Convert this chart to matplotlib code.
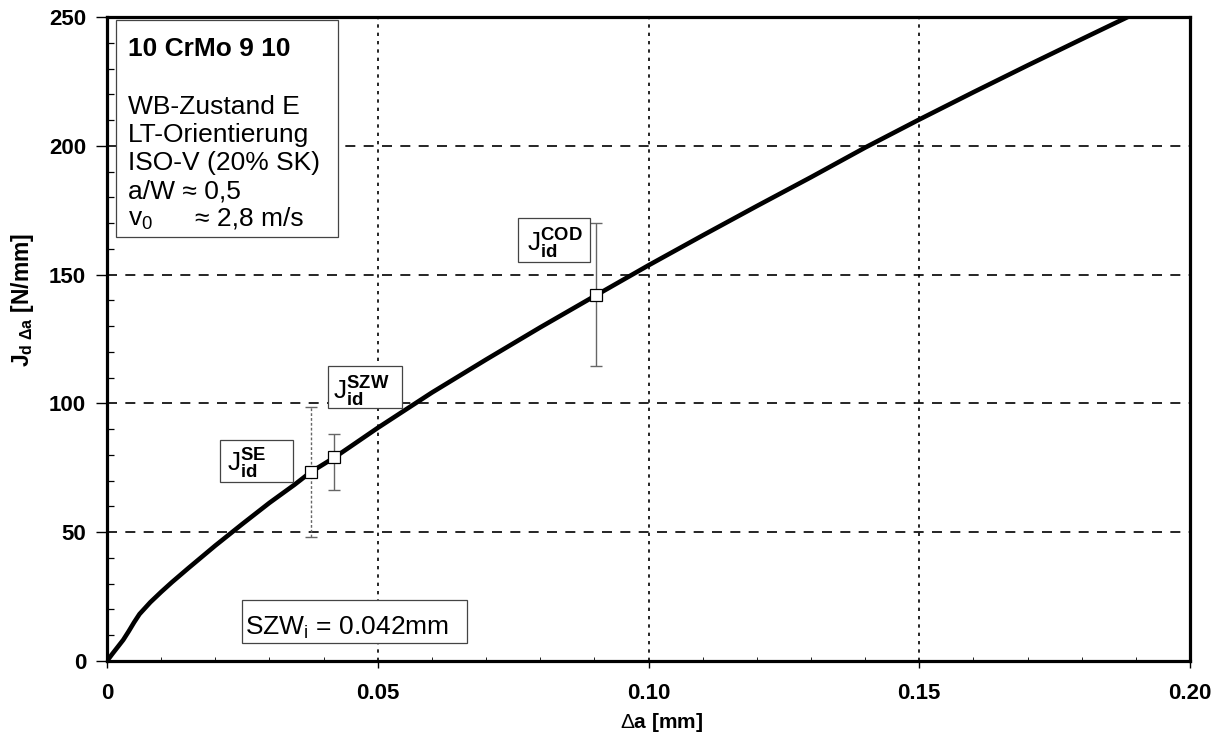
import matplotlib
matplotlib.use("Agg")
import matplotlib.pyplot as plt
from matplotlib.patches import Rectangle
from matplotlib.ticker import MultipleLocator, FixedLocator

plt.rcParams["font.family"] = ["Liberation Sans", "DejaVu Sans"]
plt.rcParams["mathtext.fontset"] = "custom"
plt.rcParams["mathtext.rm"] = "Liberation Sans"
plt.rcParams["mathtext.it"] = "Liberation Sans:italic"
plt.rcParams["mathtext.bf"] = "Liberation Sans:bold"

# J-R curve: crack extension [mm] vs. dynamic J-integral [N/mm]
crack_ext = [0.0, 0.001, 0.002, 0.003, 0.004, 0.005, 0.006, 0.007, 0.008,
             0.010, 0.012, 0.015, 0.020, 0.025, 0.030, 0.0346, 0.0376,
             0.042, 0.045, 0.050, 0.060, 0.070, 0.080, 0.090, 0.100,
             0.110, 0.120, 0.130, 0.140, 0.150, 0.160, 0.170, 0.180, 0.1885]
j_curve = [0.0, 2.8, 5.5, 8.2, 11.5, 15.0, 18.2, 20.5, 22.8,
           26.8, 30.6, 36.0, 44.8, 53.2, 61.4, 68.4, 73.3,
           79.0, 83.3, 90.5, 104.2, 117.0, 129.5, 141.6, 153.6,
           165.2, 176.6, 187.8, 199.3, 210.2, 220.8, 231.2, 241.4, 250.0]

# initiation values with scatter bands
init_tags = ["SE", "SZW", "COD"]
init_da = [0.0376, 0.042, 0.0903]
init_j = [73.3, 79.0, 141.9]
init_low = [48.0, 66.4, 114.4]
init_high = [98.5, 88.2, 170.0]

x_ticks = [0.0, 0.05, 0.10, 0.15, 0.20]
x_tick_labels = ["0", "0.05", "0.10", "0.15", "0.20"]
y_ticks = [0, 50, 100, 150, 200, 250]
y_tick_labels = ["0", "50", "100", "150", "200", "250"]

info_title = "10 CrMo 9 10"
info_lines = ["WB-Zustand E", "LT-Orientierung", "ISO-V (20% SK)", "a/W \u2248 0,5"]
szw_value = 0.042

fig = plt.figure(figsize=(12.19, 7.44), dpi=100)
ax = fig.add_axes([107 / 1219, 1 - 661 / 744, 1083 / 1219, 644 / 744])
ax.set_xlim(0, 0.20)
ax.set_ylim(0, 250)

# grid
for gx in x_ticks[1:-1]:
    ax.axvline(gx, color="black", lw=1.2, ls=(0, (2, 3)), zorder=1)
for gy in y_ticks[1:-1]:
    ax.axhline(gy, color="black", lw=1.2, ls=(0, (6, 5)), zorder=1)

# curve
ax.plot(crack_ext, j_curve, color="black", lw=3.3, solid_capstyle="butt",
        solid_joinstyle="round", zorder=3)

# initiation points with error bars
yerr = [[j - lo for j, lo in zip(init_j, init_low)],
        [hi - j for j, hi in zip(init_j, init_high)]]
eb = ax.errorbar(init_da, init_j, yerr=yerr, fmt="none", ecolor="#666666",
                 elinewidth=1.0, capsize=4.5, capthick=1.0, zorder=2)
# the SE band is drawn dotted
segs = eb[2][0]
segs.set_linestyles([(0, (2, 1.5)), "solid", "solid"])
ax.plot(init_da, init_j, ls="none", marker="s", markersize=8.5,
        markerfacecolor="white", markeredgecolor="black", markeredgewidth=0.9,
        zorder=4)


def box(x0, x1, y0, y1):
    ax.add_patch(Rectangle((x0, y0), x1 - x0, y1 - y0, facecolor="white",
                           edgecolor="#444444", lw=0.9, zorder=5))


# labels for the initiation values
box(0.02087, 0.03435, 69.5, 85.8)
ax.text(0.0222, 73.5, r"$\mathregular{J}_{\mathbf{id}}^{\mathbf{SE}}$",
        fontsize=19, va="baseline", ha="left", zorder=6)
box(0.04081, 0.05448, 98.2, 114.5)
ax.text(0.0417, 101.3, r"$\mathregular{J}_{\mathbf{id}}^{\mathbf{SZW}}$",
        fontsize=19, va="baseline", ha="left", zorder=6)
box(0.0759, 0.0892, 154.9, 172.0)
ax.text(0.0775, 158.9, r"$\mathregular{J}_{\mathbf{id}}^{\mathbf{COD}}$",
        fontsize=19, va="baseline", ha="left", zorder=6)

# stretch zone width
box(0.02493, 0.06648, 7.0, 23.7)
ax.text(0.0255, 10.1, r"SZW$_\mathregular{i}$ = " + f"{szw_value:.3f}mm",
        fontsize=19, va="baseline", ha="left", zorder=6)

# test info box
box(0.00166, 0.04266, 164.6, 248.8)
ax.text(0.0039, 234.9, info_title, fontsize=19, fontweight="bold",
        va="baseline", ha="left", zorder=6)
for txt, yb in zip(info_lines, [212.3, 201.6, 190.6, 179.7]):
    ax.text(0.0039, yb, txt, fontsize=19, va="baseline", ha="left", zorder=6)
ax.text(0.0039, 168.9, r"v$_\mathregular{0}$", fontsize=19, va="baseline",
        ha="left", zorder=6)
ax.text(0.0163, 168.9, "\u2248 2,8 m/s", fontsize=19, va="baseline",
        ha="left", zorder=6)

# axes and ticks
for sp in ax.spines.values():
    sp.set_linewidth(2.3)
ax.xaxis.set_major_locator(FixedLocator(x_ticks))
ax.set_xticklabels(x_tick_labels)
ax.yaxis.set_major_locator(FixedLocator(y_ticks))
ax.set_yticklabels(y_tick_labels)
ax.xaxis.set_minor_locator(MultipleLocator(0.01))
ax.yaxis.set_minor_locator(MultipleLocator(10))
ax.tick_params(axis="y", which="major", direction="out", length=8, width=1.0,
               pad=7, labelsize=16)
ax.tick_params(axis="x", which="major", direction="out", length=5, width=1.0,
               pad=11, labelsize=16)
ax.tick_params(axis="y", which="minor", direction="in", length=5, width=0.9)
ax.tick_params(axis="x", which="minor", direction="in", length=3, width=0.6)
for lab in ax.get_xticklabels() + ax.get_yticklabels():
    lab.set_fontweight("bold")

fig.text(662 / 1219, 1 - 722 / 744, r"$\Delta$a [mm]", fontsize=15,
         fontweight="bold", ha="center", va="center")
fig.text(22 / 1219, 1 - 300 / 744,
         r"J$_{\mathbf{d}\ \mathbf{\Delta a}}$ [N/mm]",
         fontsize=16.5, fontweight="bold", rotation=90, ha="center", va="center")

fig.savefig("out.png", dpi=100)
